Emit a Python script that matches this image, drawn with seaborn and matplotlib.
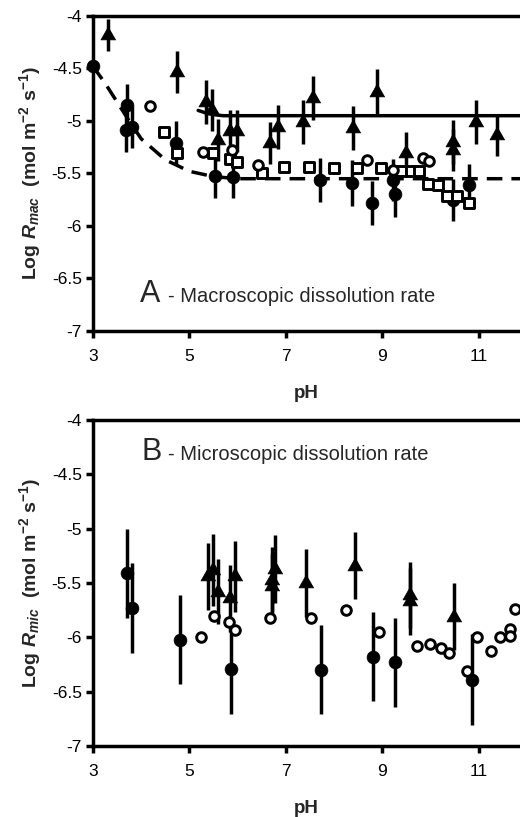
import numpy as np
import pandas as pd
import matplotlib
matplotlib.use("Agg")
import matplotlib.pyplot as plt
import seaborn as sns

# ---- panel A : macroscopic rates ----
mac_fill_ph = [3.00, 3.70, 3.68, 3.80, 4.72, 5.52, 5.90, 7.70, 8.37, 8.78, 9.22, 9.26, 10.47, 10.80]
mac_fill_logr = [-4.48, -4.85, -5.09, -5.06, -5.21, -5.52, -5.53, -5.56, -5.59, -5.78, -5.56, -5.70, -5.75, -5.61]
mac_fill_err = [0.0, 0.20, 0.21, 0.20, 0.21, 0.21, 0.20, 0.21, 0.22, 0.21, 0.20, 0.21, 0.20, 0.20]

mac_tri_ph = [3.31, 4.74, 5.34, 5.47, 5.60, 5.84, 5.98, 6.67, 6.84, 7.35, 7.56, 8.39, 8.89, 9.49, 10.46, 10.46, 10.94, 11.37]
mac_tri_logr = [-4.18, -4.53, -4.82, -4.90, -5.18, -5.10, -5.10, -5.21, -5.06, -5.01, -4.78, -5.07, -4.72, -5.31, -5.28, -5.20, -5.01, -5.13]
mac_tri_err = [0.15, 0.20, 0.21, 0.20, 0.20, 0.20, 0.20, 0.20, 0.21, 0.21, 0.21, 0.21, 0.21, 0.20, 0.20, 0.21, 0.21, 0.20]

mac_open_ph = [4.18, 5.28, 5.88, 6.42, 8.68, 9.22, 9.84, 9.96]
mac_open_logr = [-4.86, -5.30, -5.28, -5.42, -5.37, -5.47, -5.35, -5.38]

mac_sq_ph = [4.47, 4.74, 5.49, 5.85, 5.98, 6.50, 6.95, 7.48, 8.00, 8.47, 8.97, 9.38, 9.59, 9.76, 9.94, 10.15, 10.34, 10.54, 10.80]
mac_sq_logr = [-5.11, -5.31, -5.31, -5.36, -5.39, -5.50, -5.44, -5.44, -5.45, -5.45, -5.45, -5.48, -5.48, -5.48, -5.60, -5.61, -5.71, -5.71, -5.78]

# fitted curves of panel A
solid_ph = [5.18, 5.35, 5.50, 5.70, 6.00, 12.0]
solid_logr = [-4.90, -4.925, -4.94, -4.95, -4.95, -4.95]
dashed_ph = [3.00, 3.25, 3.50, 3.75, 4.00, 4.50, 5.00, 5.50, 6.00, 12.0]
dashed_logr = [-4.48, -4.64, -4.82, -5.00, -5.17, -5.37, -5.48, -5.53, -5.55, -5.55]

# ---- panel B : microscopic rates ----
mic_fill_ph = [3.70, 3.81, 4.80, 5.86, 7.72, 8.80, 9.26, 10.85]
mic_fill_logr = [-5.41, -5.73, -6.02, -6.29, -6.30, -6.18, -6.23, -6.39]
mic_fill_err = [0.41, 0.41, 0.41, 0.42, 0.41, 0.41, 0.41, 0.42]

mic_tri_ph = [5.38, 5.49, 5.60, 5.84, 5.95, 6.71, 6.71, 6.77, 7.41, 8.43, 9.56, 9.57, 10.48]
mic_tri_logr = [-5.44, -5.38, -5.58, -5.64, -5.44, -5.47, -5.53, -5.37, -5.50, -5.34, -5.61, -5.67, -5.81]
mic_tri_err = [0.31, 0.33, 0.30, 0.31, 0.33, 0.30, 0.30, 0.31, 0.31, 0.31, 0.30, 0.31, 0.31]

mic_open_ph = [5.24, 5.51, 5.82, 5.94, 6.67, 7.52, 8.24, 8.93, 9.71, 9.98, 10.21, 10.38, 10.75, 10.95, 11.25, 11.44, 11.64, 11.64, 11.74]
mic_open_logr = [-6.00, -5.80, -5.86, -5.93, -5.82, -5.82, -5.75, -5.95, -6.08, -6.06, -6.10, -6.14, -6.31, -6.00, -6.13, -6.00, -5.92, -5.99, -5.74]

x_ticks = [3, 5, 7, 9, 11]
y_ticks = [-4, -4.5, -5, -5.5, -6, -6.5, -7]
y_tick_labels = ["-4", "-4.5", "-5", "-5.5", "-6", "-6.5", "-7"]

sns.set_style("ticks")
plt.rcParams["font.family"] = ["Liberation Sans", "DejaVu Sans"]
plt.rcParams["axes.unicode_minus"] = False
plt.rcParams["mathtext.fontset"] = "custom"
plt.rcParams["mathtext.rm"] = "Liberation Sans:bold"
plt.rcParams["mathtext.it"] = "Liberation Sans:bold:italic"
plt.rcParams["mathtext.bf"] = "Liberation Sans:bold"

LW = 2.5
# equilateral-ish triangle centred on its centroid
TRI = [(0, 1.167), (-1, -0.583), (1, -0.583)]


def style_axes(ax, ylab):
    ax.set_xlim(3, 11.85)
    ax.set_ylim(-7, -4)
    ax.set_xticks(x_ticks)
    ax.set_xticklabels([str(t) for t in x_ticks])
    ax.set_yticks(y_ticks)
    ax.set_yticklabels(y_tick_labels)
    for s in ["left", "bottom", "top"]:
        ax.spines[s].set_linewidth(LW)
        ax.spines[s].set_color("black")
    ax.spines["right"].set_visible(False)
    ax.tick_params(axis="both", direction="out", length=5, width=LW,
                   color="black", labelsize=12.5, labelcolor="black", top=False, right=False)
    ax.tick_params(axis="x", pad=8)
    ax.tick_params(axis="y", pad=3)
    ax.set_xlabel("pH", fontsize=13.5, fontweight="bold", labelpad=15)
    ax.set_ylabel(ylab, fontsize=14, fontweight="bold", labelpad=6)


def bars(ax, x, y, e):
    ax.errorbar(x, y, yerr=e, fmt="none", ecolor="black", elinewidth=LW,
                capsize=0, zorder=2, clip_on=False)


def filled(ax, x, y, marker, s):
    sns.scatterplot(x=x, y=y, marker=marker, s=s, color="black", edgecolor="black",
                    linewidth=0.5, zorder=3, clip_on=False, ax=ax, legend=False)


def hollow(ax, x, y, marker, s):
    sns.scatterplot(x=x, y=y, marker=marker, s=s, facecolor="white", edgecolor="black",
                    linewidth=2.1, zorder=4, clip_on=False, ax=ax, legend=False)


fig = plt.figure(figsize=(5.2, 8.17), dpi=100)
axA = fig.add_axes([0.1788, 0.5949, 0.8212, 0.3856])
axB = fig.add_axes([0.1788, 0.0869, 0.8212, 0.3990])

# panel A
sns.lineplot(x=solid_ph, y=solid_logr, color="black", lw=LW, zorder=1, ax=axA)
sns.lineplot(x=dashed_ph, y=dashed_logr, color="black", lw=LW, zorder=1,
             linestyle=(0, (4.5, 2.6)), ax=axA)
bars(axA, mac_fill_ph, mac_fill_logr, mac_fill_err)
bars(axA, mac_tri_ph, mac_tri_logr, mac_tri_err)
filled(axA, mac_fill_ph, mac_fill_logr, "o", 85)
filled(axA, mac_tri_ph, mac_tri_logr, TRI, 160)
hollow(axA, mac_sq_ph, mac_sq_logr, "s", 42)
hollow(axA, mac_open_ph, mac_open_logr, "o", 48)
style_axes(axA, r"Log $R_{mac}$  (mol m$^{-2}$ s$^{-1}$)")
axA.text(3.97, -6.72, "A", fontsize=22, va="baseline", ha="left")
axA.text(4.55, -6.72, "- Macroscopic dissolution rate", fontsize=14.5, va="baseline", ha="left")

# panel B
bars(axB, mic_fill_ph, mic_fill_logr, mic_fill_err)
bars(axB, mic_tri_ph, mic_tri_logr, mic_tri_err)
filled(axB, mic_fill_ph, mic_fill_logr, "o", 85)
filled(axB, mic_tri_ph, mic_tri_logr, TRI, 160)
hollow(axB, mic_open_ph, mic_open_logr, "o", 48)
style_axes(axB, r"Log $R_{mic}$  (mol m$^{-2}$ s$^{-1}$)")
axB.text(4.0, -4.37, "B", fontsize=22, va="baseline", ha="left")
axB.text(4.55, -4.37, "- Microscopic dissolution rate", fontsize=14.5, va="baseline", ha="left")

fig.savefig("out.png", dpi=100)
plt.close(fig)
